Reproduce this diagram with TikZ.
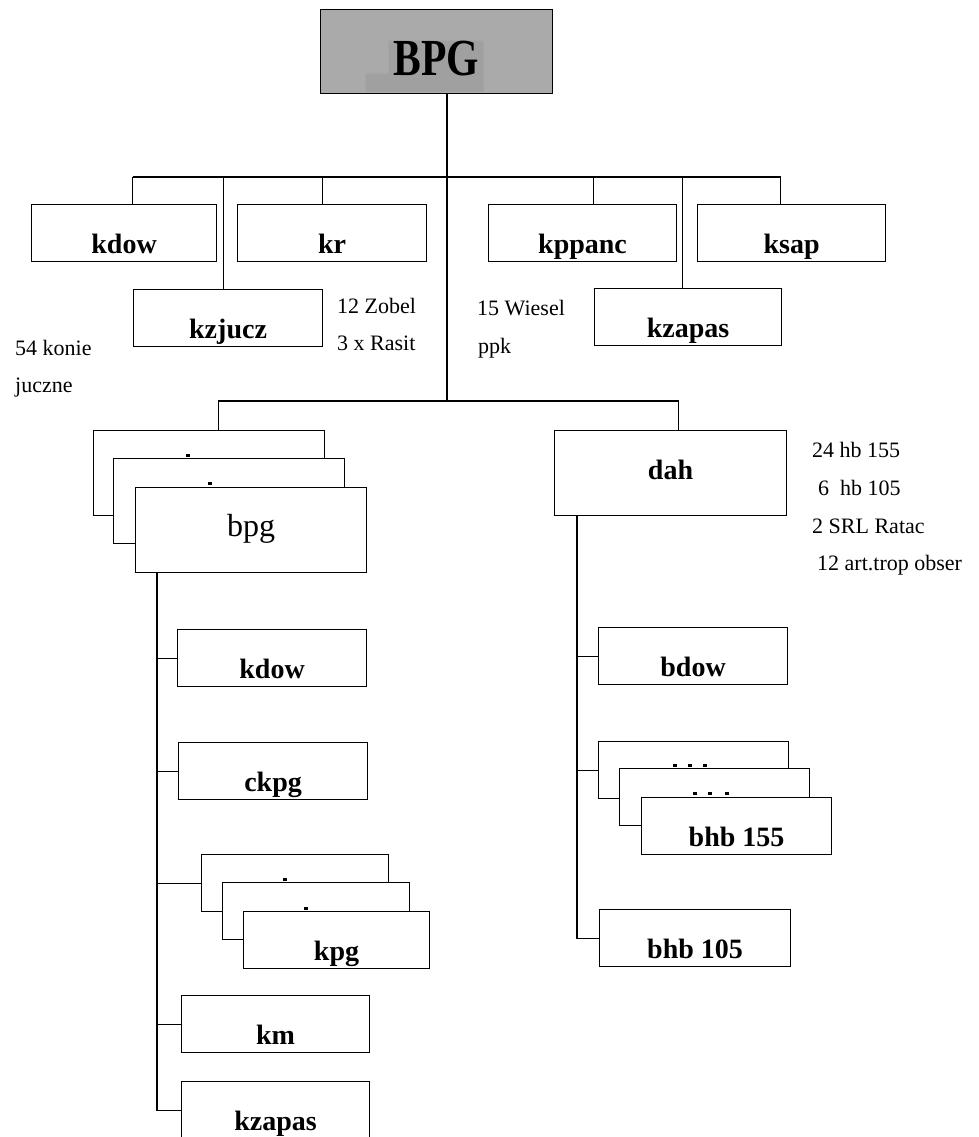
\documentclass[tikz,border=0pt]{standalone}
\usepackage{fontspec}
\setmainfont{Liberation Serif}
\usepackage{graphicx}
\definecolor{bpgfill}{RGB}{170,170,170}
\definecolor{bpgmark}{RGB}{160,160,160}
\tikzset{
  unit/.style={draw, fill=white, line width=1.1pt, inner sep=0pt, minimum width=189pt,
    text height=49pt, text depth=8pt, anchor=north west, font=\fontsize{28}{30}\selectfont\bfseries},
  bigunit/.style={unit, minimum width=231pt, text depth=36pt},
  note/.style={anchor=base west, inner sep=0pt, font=\fontsize{22}{26}\selectfont},
  link/.style={line width=1.1pt}
}
\begin{document}
\begin{tikzpicture}[x=1pt,y=-1pt]
\useasboundingbox (0,0) rectangle (978,1137);
\clip (0,0) rectangle (978,1137);
% command
\node[bigunit, minimum width=232pt, text height=66pt, text depth=18pt, fill=bpgfill,
  font=\fontsize{52}{52}\selectfont\bfseries,
  path picture={\fill[bpgmark] ([xshift=68pt,yshift=-31pt]path picture bounding box.north west)
    -- ++(95pt,0) -- ++(0,-51pt) -- ++(-118pt,0) -- ++(0,18pt) -- ++(23pt,0) -- cycle;}]
  (BPG) at (320,9) {\scalebox{0.8}[1]{BPG}};
% first level
\node[unit, minimum width=185pt] (kdowA) at (31,204) {kdow};
\node[unit] (kr) at (237,204) {kr};
\node[unit] (kzjucz) at (133,289) {kzjucz};
\node[unit, minimum width=188pt] (kppanc) at (488,204) {kppanc};
\node[unit, minimum width=188pt] (ksap) at (697,204) {ksap};
\node[unit, minimum width=187pt] (kzapasA) at (594,288) {kzapas};
\node[note] (zobel) at (337,313) {12 Zobel};
\node[note] (rasit) at (337,350) {3 x Rasit};
\node[note] (konie) at (15,355) {54 konie};
\node[note] (juczne) at (15,392) {juczne};
\node[note] (wiesel) at (477,315) {15 Wiesel};
\node[note] (ppk) at (478,353) {ppk};
% battalions
\node[bigunit] (bpgA) at (93,430) {};
\node[bigunit] (bpgB) at (113,458) {};
\node[bigunit, font=\fontsize{32}{32}\selectfont] (bpgC) at (135,487) {bpg};
\node[bigunit, minimum width=232pt] (dah) at (554,430) {dah};
\node[note] (hbA) at (812,457) {24 hb 155};
\node[note] (hbB) at (818,495) {6\ \ hb 105};
\node[note] (ratac) at (812,533) {2 SRL Ratac};
\node[note] (obser) at (817,570) {12 art.trop obser};
% bpg companies
\node[unit] (kdowB) at (177,629) {kdow};
\node[unit] (ckpg) at (178,742) {ckpg};
\node[unit, minimum width=187pt] (kpgA) at (201,854) {};
\node[unit, minimum width=187pt] (kpgB) at (222,882) {};
\node[unit, minimum width=186pt] (kpgC) at (243,911) {kpg};
\node[unit, minimum width=188pt] (km) at (181,995) {km};
\node[unit, minimum width=188pt] (kzapasB) at (181,1081) {kzapas};
% dah batteries
\node[unit] (bdow) at (598,627) {bdow};
\node[unit, minimum width=190pt] (bhbA) at (598,741) {};
\node[unit, minimum width=190pt] (bhbB) at (619,768) {};
\node[unit, minimum width=190pt] (bhbC) at (641,797) {bhb 155};
\node[unit, minimum width=191pt] (bhb105) at (599,909) {bhb 105};
% tips of hidden labels
\foreach \x/\y in {188/455,210/483,285/879,306/908,675/765,690/765,705/765,695/793,710/793,727/793}
  \fill (\x-2,\y-1.5) rectangle (\x+2,\y+1.5);
% connectors
\coordinate (hub) at (447,177);
\coordinate (hubB) at (447,401);
\coordinate (spineL) at (157,0);
\coordinate (spineR) at (577,0);
\draw[link] (BPG.south -| hub) -- (hubB);
\draw[link] ([xshift=8.5pt]kdowA.north |- hub) -- ([xshift=-11pt]ksap.north |- hub);
\foreach \n/\dx in {kdowA/8.5,kr/-9.5,kzjucz/-5,kppanc/11,ksap/-11,kzapasA/-5.5}
  \draw[link] ([xshift=\dx pt]\n.north |- hub) -- ([xshift=\dx pt]\n.north);
\draw[link] ([xshift=9pt]bpgA.north |- hubB) -- ([xshift=8pt]dah.north |- hubB);
\foreach \n/\dx in {bpgA/9,dah/8}
  \draw[link] ([xshift=\dx pt]\n.north |- hubB) -- ([xshift=\dx pt]\n.north);
\draw[link] (bpgC.south -| spineL) |- (kzapasB.west);
\foreach \n in {kdowB,ckpg,kpgA,km}
  \draw[link] (\n.west -| spineL) -- (\n.west);
\draw[link] (dah.south -| spineR) |- (bhb105.west);
\foreach \n in {bdow,bhbA}
  \draw[link] (\n.west -| spineR) -- (\n.west);
\end{tikzpicture}
\end{document}
